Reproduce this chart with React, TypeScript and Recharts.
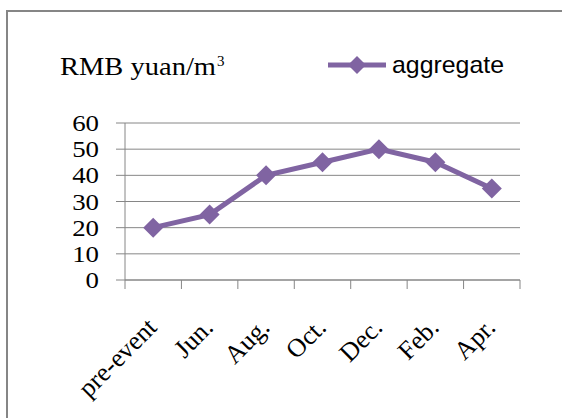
import React from 'react';
import { LineChart, Line, XAxis, YAxis, CartesianGrid, Legend } from 'recharts';

const categories = ['pre-event', 'Jun.', 'Aug.', 'Oct.', 'Dec.', 'Feb.', 'Apr.'];
const aggregate = [20, 25, 40, 45, 50, 45, 35];
const yTicks = [0, 10, 20, 30, 40, 50, 60];

const data = categories.map((name, i) => ({ name, aggregate: aggregate[i] }));

const PURPLE = '#8064A2';
const GRID = '#868686';
const SERIF = '"Liberation Serif", "Times New Roman", serif';
const SANS = '"Liberation Sans", Arial, sans-serif';

const Diamond = (props: any) => {
  const { cx, cy } = props;
  if (cx == null || cy == null) return null;
  return (
    <path
      d={`M${cx},${cy - 10}L${cx + 10},${cy}L${cx},${cy + 10}L${cx - 10},${cy}Z`}
      fill={PURPLE}
    />
  );
};

const XTick = (props: any) => {
  const { x, y, payload, index } = props;
  const half = payload && payload.offset ? payload.offset : 28.2;
  const tx = x + 5;
  const ty = y + 49;
  return (
    <g>
      <line x1={x + half} y1={y} x2={x + half} y2={y + 9} stroke={GRID} />
      {index === 0 && <line x1={x - half} y1={y} x2={x - half} y2={y + 9} stroke={GRID} />}
      <text
        transform={`translate(${tx}, ${ty}) rotate(-45)`}
        textAnchor="end"
        fontFamily={SERIF}
        fontSize={26}
        fill="#000"
      >
        {payload.value}
      </text>
    </g>
  );
};

const YTick = (props: any) => {
  const { x, y, payload } = props;
  return (
    <text
      transform={`translate(${x}, ${y + 8}) scale(1.12, 1)`}
      textAnchor="end"
      fontFamily={SERIF}
      fontSize={24}
      fill="#000"
    >
      {payload.value}
    </text>
  );
};

const renderLegend = () => (
  <svg width={562} height={100} style={{ position: 'absolute', left: 0, top: 0, overflow: 'visible' }}>
    <line x1={328} y1={65} x2={386} y2={65} stroke={PURPLE} strokeWidth={5} />
    <path d="M357,56L366,65L357,74L348,65Z" fill={PURPLE} />
    <text x={392} y={73} fontFamily={SANS} fontSize={24} textLength={112} lengthAdjust="spacingAndGlyphs" fill="#000">
      aggregate
    </text>
  </svg>
);

export default function App() {
  return (
    <div style={{ position: 'fixed', left: 0, top: 0, width: 562, height: 418, overflow: 'hidden', background: '#fff' }}>
      <svg width={562} height={418} style={{ position: 'absolute', left: 0, top: 0 }}>
        <line x1={7} y1={11} x2={7} y2={430} stroke={GRID} strokeWidth={2} />
        <line x1={6} y1={11} x2={600} y2={11} stroke={GRID} strokeWidth={2} />
      </svg>
      <div style={{ position: 'absolute', left: 0, top: 0 }}>
        <LineChart width={562} height={418} data={data} margin={{ top: 123, right: 42, left: 65, bottom: 0 }}>
          <CartesianGrid vertical={false} stroke={GRID} />
          <XAxis
            dataKey="name"
            scale="band"
            height={138}
            stroke={GRID}
            tickLine={false}
            tickSize={0}
            tickMargin={0}
            interval={0}
            tick={<XTick />}
          />
          <YAxis
            width={60}
            domain={[0, 60]}
            ticks={yTicks}
            interval={0}
            stroke={GRID}
            tickSize={9}
            tickMargin={17}
            tick={<YTick />}
          />
          <Legend
            content={renderLegend}
            wrapperStyle={{ position: 'absolute', left: 0, top: 0, width: 0, height: 0, overflow: 'visible' }}
          />
          <Line
            dataKey="aggregate"
            stroke={PURPLE}
            strokeWidth={5}
            dot={<Diamond />}
            activeDot={false}
            isAnimationActive={false}
          />
        </LineChart>
      </div>
      <svg width={562} height={100} style={{ position: 'absolute', left: 0, top: 0 }}>
        <text x={60} y={75} fontFamily={SERIF} fontSize={25} textLength={156} lengthAdjust="spacingAndGlyphs" fill="#000">
          RMB yuan/m
        </text>
        <text x={217} y={66} fontFamily={SERIF} fontSize={15} fill="#000">
          3
        </text>
      </svg>
    </div>
  );
}
